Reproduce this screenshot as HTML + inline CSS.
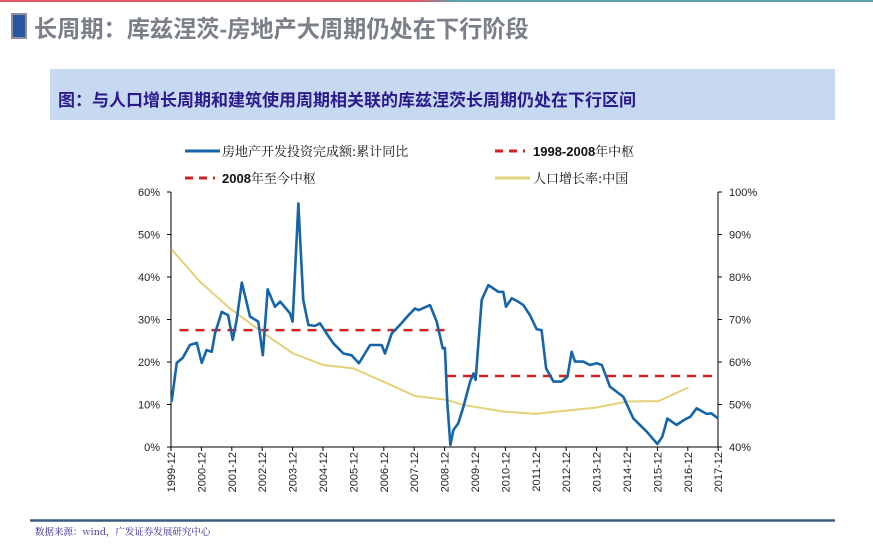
<!DOCTYPE html>
<html><head><meta charset="utf-8"><style>
body{margin:0;width:873px;height:549px;background:#fff;overflow:hidden;position:relative;font-family:"Liberation Sans","Noto Sans CJK SC",sans-serif}
.abs{position:absolute}
</style></head><body>
<div class="abs" style="left:0;top:0;width:873px;height:2px;background:linear-gradient(90deg,#e05a6a 0,#e05a6a 48%,#5aa0b0 52%,#5aa0b0 100%)"></div>
<div class="abs" style="left:11px;top:13px;width:12px;height:22px;background:#2855a0;border:2px solid #8a8f99"></div>
<div class="abs" style="left:34px;top:10px;font-size:23.2px;font-weight:bold;color:#7a7f88;font-family:'Liberation Sans','Noto Sans CJK SC',sans-serif">长周期：库兹涅茨-房地产大周期仍处在下行阶段</div>
<div class="abs" style="left:50px;top:69px;width:785px;height:51px;background:#c6d9f0"></div>
<div class="abs" style="left:58px;top:86px;font-size:17px;font-weight:bold;color:#2b1a8c">图：与人口增长周期和建筑使用周期相关联的库兹涅茨长周期仍处在下行区间</div>
<svg class="abs" style="left:0;top:0" width="873" height="549">
<g font-family="Liberation Sans, Noto Serif CJK SC, serif" font-size="13" fill="#111">
<line x1="185" y1="151" x2="220" y2="151" stroke="#1565a8" stroke-width="3"/>
<text x="222" y="156" font-family="Noto Serif CJK SC, serif">房地产开发投资完成额:累计同比</text>
<line x1="495" y1="151" x2="525" y2="151" stroke="#d42020" stroke-width="3" stroke-dasharray="8,6"/>
<text x="533" y="156" font-weight="bold">1998-2008<tspan font-family="Noto Serif CJK SC, serif" font-weight="normal">年中枢</tspan></text>
<line x1="185" y1="178" x2="215" y2="178" stroke="#d42020" stroke-width="3" stroke-dasharray="8,6"/>
<text x="222" y="183" font-weight="bold">2008<tspan font-family="Noto Serif CJK SC, serif" font-weight="normal">年至今中枢</tspan></text>
<line x1="495" y1="178" x2="530" y2="178" stroke="#e3d277" stroke-width="3"/>
<text x="533" y="183" font-family="Noto Serif CJK SC, serif">人口增长率:中国</text>
</g>
<g id="axes"></g>
<g id="marks"></g>
<line x1="30" y1="520.5" x2="835" y2="520.5" stroke="#3d5a80" stroke-width="2.5"/>
<text x="35" y="535" font-size="9.5" fill="#2b1a8c" font-family="Noto Serif CJK SC, serif">数据来源：wind，广发证券发展研究中心</text>
</svg>
<script>
const leftTicks=[0,10,20,30,40,50,60];
const rightTicks=[40,50,60,70,80,90,100];
const years=[1999,2000,2001,2002,2003,2004,2005,2006,2007,2008,2009,2010,2011,2012,2013,2014,2015,2016,2017];
const invTime=[1999.94,2000.11,2000.31,2000.54,2000.77,2000.93,2001.09,2001.26,2001.37,2001.59,2001.80,2001.95,2002.08,2002.25,2002.52,2002.79,2002.94,2003.10,2003.34,2003.51,2003.83,2003.92,2004.11,2004.27,2004.44,2004.66,2004.82,2005.04,2005.26,2005.59,2005.86,2006.10,2006.47,2006.85,2006.96,2007.18,2007.45,2007.73,2007.95,2008.06,2008.44,2008.66,2008.86,2008.93,2009.01,2009.11,2009.21,2009.37,2009.54,2009.76,2009.87,2009.94,2010.14,2010.36,2010.69,2010.85,2010.94,2011.13,2011.34,2011.51,2011.73,2011.95,2012.11,2012.26,2012.50,2012.77,2012.96,2013.10,2013.21,2013.48,2013.70,2013.92,2014.09,2014.36,2014.80,2015.13,2015.57,2015.92,2016.08,2016.25,2016.55,2016.83,2017.00,2017.21,2017.54,2017.70,2017.92];
const invValue=[10.7,19.8,21,24,24.5,19.8,22.8,22.4,26.8,31.8,31,25.2,29.9,38.7,30.7,29.5,21.6,37.1,33,34.2,31.5,29.5,57.3,34.6,28.7,28.5,29.1,26.7,24.4,22,21.6,19.7,24,24,22,26.7,28.7,31,32.6,32.2,33.4,29.5,23.2,23.3,10.3,0.5,4,5.6,9.5,15.4,17.3,15.8,34.6,38.1,36.5,36.5,33,35,34.2,33.4,31,27.7,27.5,18.5,15.4,15.4,16.5,22.4,20.1,20.1,19.3,19.7,19.3,14.2,11.8,6.7,3.6,0.7,2.4,6.7,5.2,6.5,7.1,9.1,7.8,7.9,6.7];
const popTime=[1999.94,2000.87,2001.86,2002.96,2003.94,2004.93,2005.92,2007.02,2007.95,2008.99,2009.53,2010.91,2011.9,2013.92,2014.91,2015.95,2016.94];
const popValue=[86.5,78.9,72.6,66.8,62,59.3,58.5,55,52,51.1,49.9,48.3,47.8,49.3,50.7,50.8,54];
const mid1=[2000.2,2008.92,27.5];
const mid2=[2009.0,2017.92,16.7];
const X=t=>171+(t-1999.92)*30.4;
const YL=v=>447-v*4.25;
const YR=v=>447-(v-40)*4.25;
const NS='http://www.w3.org/2000/svg';
function mk(tag,attrs,parent){const e=document.createElementNS(NS,tag);for(const k in attrs)e.setAttribute(k,attrs[k]);parent.appendChild(e);return e;}
const ax=document.getElementById('axes'),mg=document.getElementById('marks');
let e;
e=mk('line',{x1:171,y1:YL(60),x2:171,y2:447,stroke:'#000'},ax);


e=mk('line',{x1:718,y1:YR(100),x2:718,y2:447,stroke:'#000'},ax);


e=mk('line',{x1:171,y1:447,x2:718,y2:447,stroke:'#000'},ax);


leftTicks.forEach(v=>{mk('line',{x1:167,y1:YL(v),x2:171,y2:YL(v),stroke:'#000'},ax);
e=mk('text',{x:160,y:YL(v)+4,'text-anchor':'end','font-size':11,fill:'#222'},ax);e.textContent=v+'%';

});
rightTicks.forEach(v=>{mk('line',{x1:718,y1:YR(v),x2:722,y2:YR(v),stroke:'#000'},ax);
e=mk('text',{x:729,y:YR(v)+4,'font-size':11,fill:'#222'},ax);e.textContent=v+'%';

});
years.forEach(y=>{const x=X(y+0.92);mk('line',{x1:x,y1:447,x2:x,y2:451,stroke:'#000'},ax);
e=mk('text',{x:0,y:0,'text-anchor':'end','font-size':11,fill:'#222',transform:`translate(${x+4},452) rotate(-90)`},ax);e.textContent=y+'-12';

});
e=mk('line',{x1:X(mid1[0]),y1:YL(mid1[2]),x2:X(mid1[1]),y2:YL(mid1[2]),stroke:'#d42020','stroke-width':2.5,'stroke-dasharray':'9,7'},mg);


e=mk('line',{x1:X(mid2[0]),y1:YL(mid2[2]),x2:X(mid2[1]),y2:YL(mid2[2]),stroke:'#d42020','stroke-width':2.5,'stroke-dasharray':'9,7'},mg);


e=mk('polyline',{points:popTime.map((t,i)=>X(t)+','+YR(popValue[i])).join(' '),fill:'none',stroke:'#e3d277','stroke-width':2},mg);


e=mk('polyline',{points:invTime.map((t,i)=>X(t)+','+YL(invValue[i])).join(' '),fill:'none',stroke:'#1565a8','stroke-width':2.6,'stroke-linejoin':'round'},mg);


</script>
</body></html>
